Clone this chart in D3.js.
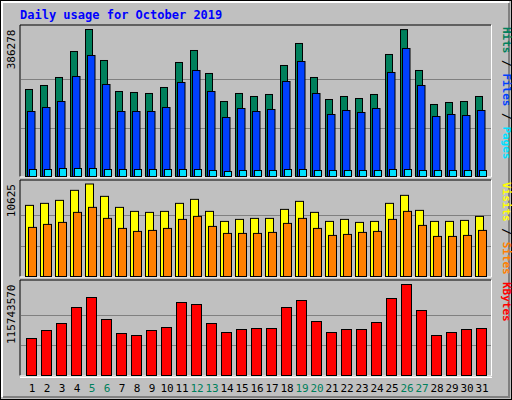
<!DOCTYPE html>
<html><head><meta charset="utf-8">
<script src="https://cdn.jsdelivr.net/npm/d3@7"></script>
<style>body{margin:0;background:#fff}</style></head>
<body><svg id="c" width="512" height="400"></svg>
<script>
const days = d3.range(1, 32);
const weekends = [5, 6, 12, 13, 19, 20, 26, 27];
const hits = [228636,239148,260172,328500,386278,304848,223380,220752,218124,233892,299592,331128,270684,197100,218124,210240,215496,291708,349524,260172,202356,210240,204984,215496,320616,386000,278568,189216,194472,197100,210240];
const files = [170820,181332,197100,262800,317988,241776,170820,170820,170820,181332,247032,278568,223380,155052,178704,170820,176076,249660,302220,218124,162936,173448,168192,178704,273312,336384,239148,157680,162936,160308,173448];
const pages = [18396,18396,21024,21024,21024,18396,18396,18396,18396,18396,18396,18396,15768,13140,15768,15768,15768,18396,18396,15768,15768,15768,15768,15768,18396,18396,15768,15768,15768,15768,15768];
const visits = [8170,8401,8746,9897,10625,9206,7940,7480,7365,7480,8401,8861,7480,6329,6559,6675,6675,7710,8631,7365,6329,6559,6214,6329,8401,9321,7595,6329,6329,6444,6905];
const sites = [5639,5984,6214,7365,7940,6675,5524,5179,5294,5524,6559,6905,5754,4948,4948,4948,5064,6099,6675,5524,4718,4833,5064,5179,6559,7480,5869,4603,4603,4718,5294];
const kbytes = [47060558,57235815,66139164,86489676,99208746,71226792,53420094,50876280,57235815,61051536,92849211,90305397,66139164,54692001,58507722,59779629,59779629,86489676,95393025,68682978,54692001,58507722,58507722,67411071,97936839,115743570,82673955,50876280,54692001,58507722,59779629];
const maxTop = 386278, maxMid = 10625, maxBot = 115743570;

const svg = d3.select('#c');
svg.append('rect').attr('x',0.5).attr('y',0.5).attr('width',511).attr('height',399).attr('fill','#C0C0C0').attr('stroke','#000');
svg.append('path').attr('d','M2,397 V2 H509').attr('fill','none').attr('stroke','#fff').attr('stroke-width',2);
svg.append('path').attr('d','M3,397 H509 V3').attr('fill','none').attr('stroke','#808080').attr('stroke-width',2);

const font = 'DejaVu Sans Mono, monospace';
svg.append('text').attr('x',20).attr('y',19).attr('font-family',font).attr('font-weight','bold')
  .attr('font-size',12).attr('fill','#0000FF').text('Daily usage for October 2019');

const x = d3.scaleBand().domain(days).range([20, 485]);
const L = 20, R = 491;

function panel(top, bottom, plotTop, max, series, labelParts, maxLabel) {
  svg.append('rect').attr('x',L).attr('y',top).attr('width',R-L).attr('height',bottom-top).attr('fill','#C0C0C0');
  svg.append('path').attr('d',`M${L},${bottom} V${top} H${R}`).attr('fill','none').attr('stroke','#000');
  svg.append('path').attr('d',`M${L},${bottom+0.5} H${R+0.5} V${top}`).attr('fill','none').attr('stroke','#fff');
  const sp = (bottom - plotTop) / 3;
  for (let k = 1; k <= 2; k++) {
    const gy = Math.round(bottom - k*sp) + 0.5;
    svg.append('line').attr('x1',L+1).attr('x2',R).attr('y1',gy).attr('y2',gy).attr('stroke','#808080').attr('stroke-width',1);
  }
  const y = d3.scaleLinear().domain([0, max]).range([bottom, plotTop]);
  series.forEach(s => {
    svg.append('g').selectAll('rect').data(s.values).join('rect')
      .attr('x',(d,i)=>x(days[i]) + s.off).attr('width',s.w)
      .attr('y',d=>y(d)).attr('height',d=>Math.max(0, bottom - y(d)))
      .attr('fill',s.color).attr('stroke','#000').attr('stroke-width',1);
  });
  svg.append('text').attr('transform',`translate(15,${plotTop}) rotate(-90)`).attr('text-anchor','end')
    .attr('font-family',font).attr('font-size',11).attr('fill','#000').text(maxLabel);
  const t = svg.append('text').attr('transform',`translate(503,${top+2}) rotate(90)`)
    .attr('font-family',font).attr('font-size',11).attr('font-weight','bold');
  // rotated text reads top to bottom; reverse order so first part ends at bottom
  labelParts.slice().reverse().forEach((p,i) => {
    if (i) t.append('tspan').attr('fill','#000').text(' / ');
    t.append('tspan').attr('fill',p[1]).text(p[0]);
  });
  // right aligned to bottom
  t.attr('transform',`translate(503,${top+2}) rotate(90)`);
  return t;
}

const t1 = panel(25, 176.5, 29.5, maxTop, [
  {values:hits, color:'#00805C', off:5.5, w:7},
  {values:files, color:'#0040FF', off:7.5, w:7.5},
  {values:pages, color:'#00E0FF', off:9.5, w:7}
], [['Pages','#00E0FF'],['Files','#0040FF'],['Hits','#00805C']], '386278');
const t2 = panel(180, 276.5, 184, maxMid, [
  {values:visits, color:'#FFFF00', off:5.5, w:8},
  {values:sites, color:'#FF8000', off:8.5, w:8}
], [['Sites','#FF8000'],['Visits','#FFFF00']], '10625');
const t3 = panel(280, 375.5, 284.5, maxBot, [
  {values:kbytes, color:'#FF0000', off:6.5, w:10}
], [['KBytes','#FF0000']], '115743570');

svg.append('line').attr('x1',L).attr('x2',R+1).attr('y1',377.5).attr('y2',377.5).attr('stroke','#fff');

svg.append('g').selectAll('text').data(days).join('text')
  .attr('x',d=>x(d)+12).attr('y',392).attr('text-anchor','middle')
  .attr('font-family',font).attr('font-size',11)
  .attr('fill',d=>weekends.includes(d)?'#00805C':'#000').text(d=>d);
</script></body></html>
